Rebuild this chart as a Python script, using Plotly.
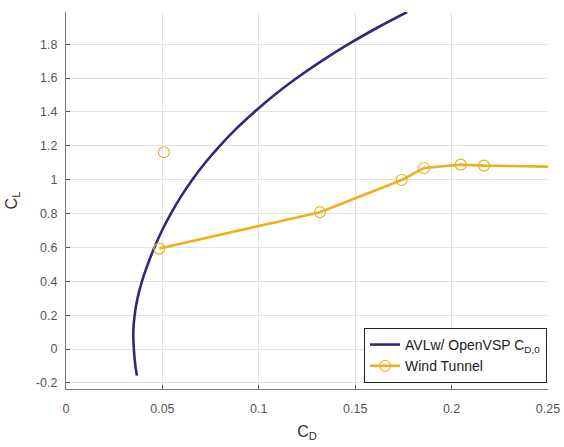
import plotly.graph_objects as go

# AVL w/ OpenVSP CD0 drag polar
avl_cl = [-0.157, -0.1, 0.0, 0.1, 0.2, 0.3, 0.4, 0.5, 0.6, 0.7, 0.8, 0.9, 1.0,
          1.1, 1.2, 1.3, 1.4, 1.5, 1.6, 1.7, 1.8, 1.9, 1.99]
avl_cd = [0.0368, 0.0360, 0.0352, 0.0349, 0.0356, 0.0371, 0.0394, 0.0424, 0.04585,
          0.0498, 0.0544, 0.0596, 0.0655, 0.0722, 0.0798, 0.0882, 0.0977, 0.1081,
          0.1197, 0.1325, 0.1465, 0.1619, 0.1769]

# Wind tunnel data
wt_cd = [0.0484, 0.1317, 0.1741, 0.1857, 0.2047, 0.2168, 0.2600]
wt_cl = [0.593, 0.808, 0.998, 1.069, 1.089, 1.083, 1.075]
wt_out_cd = [0.0508]
wt_out_cl = [1.162]

x_ticks = [0, 0.05, 0.1, 0.15, 0.2, 0.25]
x_labels = ["0", "0.05", "0.1", "0.15", "0.2", "0.25"]
y_ticks = [-0.2, 0, 0.2, 0.4, 0.6, 0.8, 1.0, 1.2, 1.4, 1.6, 1.8]
y_labels = ["-0.2", "0", "0.2", "0.4", "0.6", "0.8", "1", "1.2", "1.4", "1.6", "1.8"]

navy = "#2E2A78"
yellow = "#EDB120"
font_fam = "Liberation Sans, Arial"

fig = go.Figure()
fig.add_trace(go.Scatter(
    x=avl_cd, y=avl_cl, mode="lines", line=dict(color=navy, width=2.6, shape="spline"),
    name="AVLw/ OpenVSP C<sub>D,0</sub>"))
fig.add_trace(go.Scatter(
    x=wt_cd, y=wt_cl, mode="lines+markers",
    line=dict(color=yellow, width=2.6),
    marker=dict(symbol="circle-open", size=11, color=yellow, line=dict(width=1.2)),
    name="Wind Tunnel"))
fig.add_trace(go.Scatter(
    x=wt_out_cd, y=wt_out_cl, mode="markers",
    marker=dict(symbol="circle-open", size=11, color=yellow, line=dict(width=1.2)),
    showlegend=False))

axis_common = dict(
    showgrid=True, gridcolor="#e3e3e3", gridwidth=1,
    showline=True, linecolor="#7a7a7a", linewidth=1.3,
    ticks="inside", ticklen=4, tickcolor="#555555",
    tickfont=dict(family=font_fam, size=12.5, color="#555555"),
    zeroline=False, mirror=False, automargin=False,
)

fig.update_layout(
    width=564, height=447,
    margin=dict(l=66, r=16, t=12, b=58),
    paper_bgcolor="white", plot_bgcolor="white",
    showlegend=True,
    legend=dict(
        x=0.998, y=0.016, xanchor="right", yanchor="bottom",
        bordercolor="#222222", borderwidth=1, bgcolor="white",
        font=dict(family=font_fam, size=14, color="#222222"),
        tracegroupgap=0,
    ),
    xaxis=dict(range=[0, 0.25], tickvals=x_ticks, ticktext=x_labels,
               ticklabelstandoff=8,
               title=dict(text="C<sub>D</sub>", standoff=10,
                          font=dict(family=font_fam, size=16, color="#333333")),
               **axis_common),
    yaxis=dict(range=[-0.236, 1.99], tickvals=y_ticks, ticktext=y_labels,
               ticklabelstandoff=5,
               title=dict(text="C<sub>L</sub>", standoff=14,
                          font=dict(family=font_fam, size=16, color="#333333")),
               **axis_common),
)

fig.write_html("out.html")
